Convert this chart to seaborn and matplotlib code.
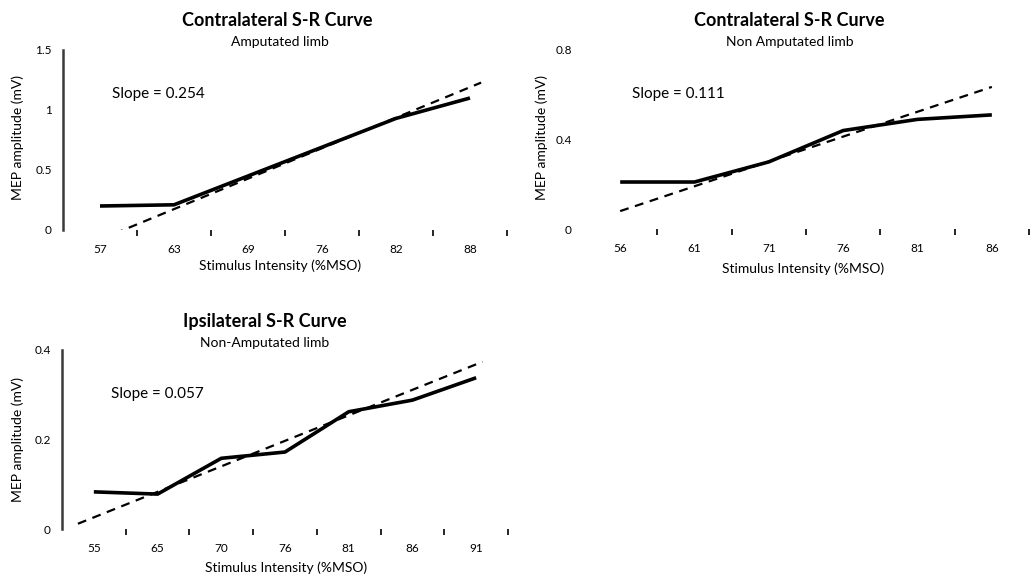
import numpy as np
import pandas as pd
import matplotlib
matplotlib.use("Agg")
import matplotlib.pyplot as plt
import seaborn as sns

# Stimulus intensities (%MSO) and mean MEP amplitudes (mV) for each recruitment curve
contra_amp_intensity = ["57", "63", "69", "76", "82", "88"]
contra_amp_mep = [0.20, 0.21, 0.45, 0.69, 0.93, 1.10]
contra_amp_slope = 0.254
contra_amp_intercept = -0.08

contra_non_intensity = ["56", "61", "71", "76", "81", "86"]
contra_non_mep = [0.21, 0.21, 0.30, 0.44, 0.49, 0.51]
contra_non_slope = 0.111
contra_non_intercept = 0.08

ipsi_non_intensity = ["55", "65", "70", "76", "81", "86", "91"]
ipsi_non_mep = [0.083, 0.078, 0.158, 0.172, 0.262, 0.288, 0.338]
ipsi_non_slope = 0.057
ipsi_non_intercept = 0.026

sns.set_theme(style="white")
plt.rcParams["font.family"] = ["Lato", "DejaVu Sans"]

W, H = 1030, 576
fig = plt.figure(figsize=(W / 100, H / 100), dpi=100)
fig.patch.set_facecolor("white")


def px_axes(left, top, right, bottom):
    return fig.add_axes([left / W, 1 - bottom / H, (right - left) / W, (bottom - top) / H])


def draw_curve(ax, labels, mep, slope, intercept, ymax, yticks, ytick_labels,
               show_yaxis, trend_pad=(0.0, 0.0)):
    n = len(labels)
    df = pd.DataFrame({"pos": np.arange(n), "mep": mep})
    sns.lineplot(data=df, x="pos", y="mep", ax=ax, color="black", lw=2.6,
                 solid_capstyle="butt")
    # linear trend line of the recruitment curve
    tx = np.array([-trend_pad[0], n - 1 + trend_pad[1]])
    tdf = pd.DataFrame({"pos": tx, "fit": intercept + slope * tx})
    sns.lineplot(data=tdf, x="pos", y="fit", ax=ax, color="black", lw=1.6,
                 linestyle=(0, (4, 3)))
    ax.set_xlim(-0.5, n - 0.5)
    ax.set_ylim(0, ymax)
    ax.set_xticks(np.arange(n))
    ax.set_xticklabels(labels)
    ax.set_xticks(np.arange(n) + 0.5, minor=True)
    ax.tick_params(axis="x", which="major", length=0, pad=10, labelsize=8.5,
                   labelcolor="black")
    ax.tick_params(axis="x", which="minor", bottom=True, length=4, width=1.2,
                   color="black", direction="out")
    ax.set_yticks(yticks)
    ax.set_yticklabels(ytick_labels)
    ax.tick_params(axis="y", length=0, pad=8, labelsize=8.5, labelcolor="black")
    ax.set_xlabel("")
    ax.set_ylabel("")
    for side in ("top", "right", "bottom"):
        ax.spines[side].set_visible(False)
    if show_yaxis:
        ax.spines["left"].set_color("#3a3a3a")
        ax.spines["left"].set_linewidth(1.8)
    else:
        ax.spines["left"].set_visible(False)
    ax.grid(False)
    ax.set_facecolor("white")
    ax.text(0.11, 0.755, f"Slope = {slope:.3f}", transform=ax.transAxes,
            fontsize=11, va="center", ha="left", color="black")


ax1 = px_axes(63, 50, 507, 230)
draw_curve(ax1, contra_amp_intensity, contra_amp_mep, contra_amp_slope,
           contra_amp_intercept, 1.5, [0, 0.5, 1, 1.5], ["0", "0.5", "1", "1.5"],
           True, (0.0, 0.15))

ax2 = px_axes(583, 50, 1029, 229)
draw_curve(ax2, contra_non_intensity, contra_non_mep, contra_non_slope,
           contra_non_intercept, 0.8, [0, 0.4, 0.8], ["0", "0.4", "0.8"], False)

ax3 = px_axes(62, 350, 508, 529)
draw_curve(ax3, ipsi_non_intensity, ipsi_non_mep, ipsi_non_slope,
           ipsi_non_intercept, 0.4, [0, 0.2, 0.4], ["0", "0.2", "0.4"], True,
           (0.25, 0.1))


def ftext(x, y, s, **kw):
    fig.text(x / W, 1 - y / H, s, ha="center", va="center", color="black", **kw)


# titles and subtitles
ftext(277, 21, "Contralateral S-R Curve", fontsize=13, fontweight="bold")
ftext(280, 42, "Amputated limb", fontsize=10)
ftext(789, 21, "Contralateral S-R Curve", fontsize=13, fontweight="bold")
ftext(790, 42, "Non Amputated limb", fontsize=10)
ftext(265, 322, "Ipsilateral S-R Curve", fontsize=13, fontweight="bold")
ftext(265, 343, "Non-Amputated limb", fontsize=10)

# axis titles
ftext(18, 137, "MEP amplitude (mV)", fontsize=10, rotation=90)
ftext(542, 138, "MEP amplitude (mV)", fontsize=10, rotation=90)
ftext(18, 440, "MEP amplitude (mV)", fontsize=10, rotation=90)
ftext(280, 266, "Stimulus Intensity (%MSO)", fontsize=10)
ftext(803, 269, "Stimulus Intensity (%MSO)", fontsize=10)
ftext(286, 568, "Stimulus Intensity (%MSO)", fontsize=10)

fig.savefig("out.png", dpi=100, facecolor="white")
